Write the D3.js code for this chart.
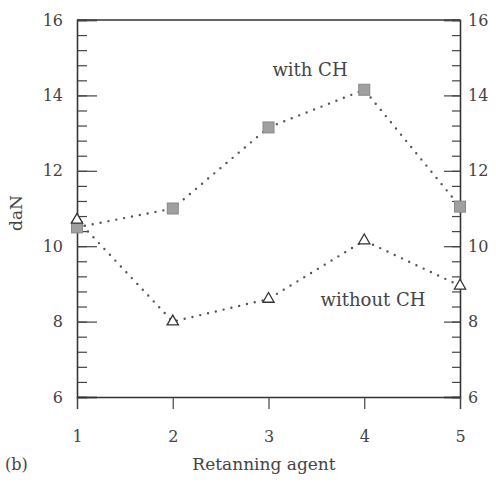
<!DOCTYPE html>
<html>
<head>
<meta charset="utf-8">
<script src="https://cdn.jsdelivr.net/npm/d3@7"></script>
<style>
  body { margin: 0; background: #fff; }
  text { font-family: "DejaVu Serif", "Liberation Serif", serif; fill: #444; }
</style>
</head>
<body>
<script>
// data
var agents = [1, 2, 3, 4, 5];
var withCH = [10.5, 11.0, 13.15, 14.15, 11.05];
var withoutCH = [10.7, 8.0, 8.6, 10.15, 8.95];
var majorTicks = [6, 8, 10, 12, 14, 16];
var minorTicks = d3.range(6, 16.01, 0.4);

var width = 496, height = 486;

var svg = d3.select("body")
  .append("svg")
  .attr("width", width)
  .attr("height", height);

var x = d3.scaleLinear().domain([1, 5]).range([77, 460]);
var y = d3.scaleLinear().domain([6, 16]).range([397, 20]);

// frame top line
svg.append("line")
  .attr("x1", x(1)).attr("x2", x(5))
  .attr("y1", y(16)).attr("y2", y(16))
  .attr("stroke", "#333").attr("stroke-width", 1.3);

// left axis: minor then major
svg.append("g")
  .attr("class", "axis")
  .attr("transform", "translate(" + x(1) + ",0)")
  .call(d3.axisLeft(y).tickValues(minorTicks).tickSize(-10).tickFormat(""));
svg.append("g")
  .attr("class", "axis")
  .attr("transform", "translate(" + x(1) + ",0)")
  .call(d3.axisLeft(y).tickValues(majorTicks).tickSize(-20).tickPadding(14).tickFormat(d3.format("d")));

// right axis
svg.append("g")
  .attr("class", "axis")
  .attr("transform", "translate(" + x(5) + ",0)")
  .call(d3.axisRight(y).tickValues(minorTicks).tickSize(-8).tickFormat(""));
svg.append("g")
  .attr("class", "axis")
  .attr("transform", "translate(" + x(5) + ",0)")
  .call(d3.axisRight(y).tickValues(majorTicks).tickSize(-16).tickPadding(8).tickFormat(d3.format("d")));

// bottom axis
svg.append("g")
  .attr("class", "axis")
  .attr("transform", "translate(0," + y(6) + ")")
  .call(d3.axisBottom(x).tickValues(agents).tickSize(12).tickPadding(22).tickFormat(d3.format("d")));

svg.selectAll(".axis path").attr("stroke", "#333").attr("stroke-width", 1.3);
svg.selectAll(".axis line").attr("stroke", "#444").attr("stroke-width", 1.2);
svg.selectAll(".axis text")
  .style("font-family", "'DejaVu Serif', serif")
  .style("font-size", "16px")
  .attr("fill", "#444");

// dotted lines
var line = d3.line()
  .x(function(d, i) { return x(agents[i]); })
  .y(function(d) { return y(d); });

[withCH, withoutCH].forEach(function(s) {
  svg.append("path")
    .attr("d", line(s))
    .attr("fill", "none")
    .attr("stroke", "#555")
    .attr("stroke-width", 2.4)
    .attr("stroke-linecap", "round")
    .attr("stroke-dasharray", "0,8");
});

// markers
svg.selectAll(".sq")
  .data(withCH)
  .enter()
  .append("rect")
  .attr("class", "sq")
  .attr("x", function(d, i) { return x(agents[i]) - 5.5; })
  .attr("y", function(d) { return y(d) - 5.5; })
  .attr("width", 11)
  .attr("height", 11)
  .attr("fill", "#a0a0a0")
  .attr("stroke", "#888")
  .attr("stroke-width", 1);

svg.selectAll(".tri")
  .data(withoutCH)
  .enter()
  .append("path")
  .attr("class", "tri")
  .attr("transform", function(d, i) { return "translate(" + x(agents[i]) + "," + y(d) + ")"; })
  .attr("d", d3.symbol().type(d3.symbolTriangle).size(55))
  .attr("fill", "#fff")
  .attr("stroke", "#333")
  .attr("stroke-width", 1.3);

// labels
svg.append("text")
  .attr("x", 310)
  .attr("y", 76)
  .style("font-size", "18px")
  .style("text-anchor", "middle")
  .text("with CH");

svg.append("text")
  .attr("x", 373)
  .attr("y", 306)
  .style("font-size", "18px")
  .style("text-anchor", "middle")
  .text("without CH");

svg.append("text")
  .attr("transform", "rotate(-90)")
  .attr("x", -213)
  .attr("y", 22)
  .style("font-size", "17px")
  .style("text-anchor", "middle")
  .text("daN");

svg.append("text")
  .attr("x", 264)
  .attr("y", 470)
  .style("font-size", "17px")
  .style("text-anchor", "middle")
  .text("Retanning agent");

svg.append("text")
  .attr("x", 5)
  .attr("y", 470)
  .style("font-size", "16px")
  .text("(b)");
</script>
</body>
</html>
